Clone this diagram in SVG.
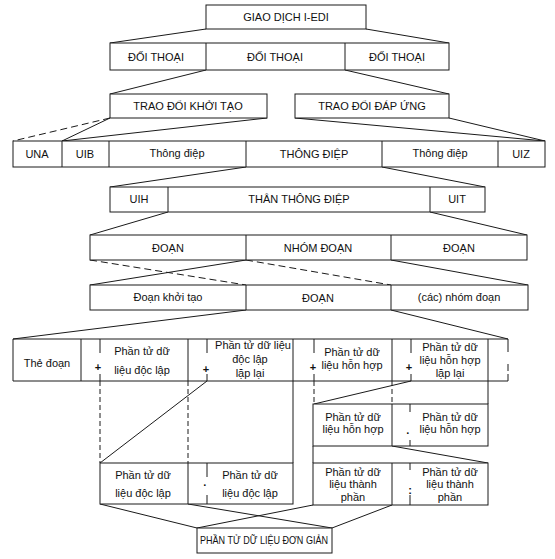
<svg xmlns="http://www.w3.org/2000/svg" width="555" height="559" viewBox="0 0 555 559">
<style>
.box{fill:#fff;stroke:#1a1a1a;stroke-width:1}
.ln{stroke:#1a1a1a;stroke-width:1;fill:none}
.dash{stroke-dasharray:7 4}
.vd{stroke-dasharray:5 3}
.t{font-family:"Liberation Sans",Arial,sans-serif;font-size:11px;fill:#111;text-anchor:middle}
.m{font-family:"Liberation Sans",Arial,sans-serif;font-size:11px;font-weight:bold;fill:#111;text-anchor:middle}
</style>
<rect width="555" height="559" fill="#fff"/>

<g id="connectors">
<line class="ln" x1="206" y1="29" x2="110" y2="43"/>
<line class="ln" x1="366" y1="29" x2="449" y2="43"/>
<line class="ln" x1="206" y1="70" x2="110" y2="94"/>
<line class="ln" x1="345" y1="70" x2="449" y2="94"/>
<line class="ln dash" x1="110" y1="118" x2="13" y2="141"/>
<line class="ln" x1="110" y1="118" x2="62" y2="141"/>
<line class="ln" x1="267" y1="118" x2="62" y2="141"/>
<line class="ln" x1="295" y1="118" x2="545" y2="141"/>
<line class="ln" x1="449" y1="118" x2="545" y2="141"/>
<line class="ln" x1="246" y1="167" x2="110" y2="187"/>
<line class="ln" x1="382" y1="167" x2="485" y2="187"/>
<line class="ln" x1="168" y1="212" x2="90" y2="235"/>
<line class="ln" x1="430" y1="212" x2="527" y2="235"/>
<line class="ln dash" x1="90" y1="260" x2="246" y2="285"/>
<line class="ln" x1="246" y1="260" x2="90" y2="285"/>
<line class="ln dash" x1="246" y1="260" x2="391" y2="285"/>
<line class="ln" x1="391" y1="260" x2="528" y2="285"/>
<line class="ln" x1="246" y1="310" x2="13" y2="339"/>
<line class="ln" x1="391" y1="310" x2="508" y2="339"/>
<line class="ln vd" x1="100" y1="381" x2="100" y2="463"/>
<line class="ln vd" x1="188" y1="381" x2="188" y2="463"/>
<line class="ln vd" x1="314" y1="381" x2="314" y2="404"/>
<line class="ln vd" x1="392" y1="381" x2="392" y2="404"/>
<line class="ln" x1="293" y1="381" x2="293" y2="463"/>
<line class="ln" x1="488" y1="381" x2="488" y2="404"/>
<line class="ln" x1="207" y1="381" x2="100" y2="463"/>
<line class="ln" x1="411" y1="381" x2="314" y2="404"/>
<line class="ln" x1="313" y1="446" x2="313" y2="463"/>
<line class="ln" x1="392" y1="446" x2="488" y2="463"/>
<line class="ln" x1="100" y1="504" x2="197" y2="528"/>
<line class="ln" x1="188" y1="504" x2="332" y2="528"/>
<line class="ln" x1="313" y1="505" x2="197" y2="528"/>
<line class="ln" x1="392" y1="505" x2="332" y2="528"/>
</g>

<g id="giao-dich">
<rect class="box" x="206" y="5" width="160" height="24"/>
<text class="t" x="286" y="21">GIAO DỊCH I-EDI</text>
</g>

<g id="doi-thoai">
<rect class="box" x="110" y="43" width="339" height="27"/>
<line class="ln" x1="206" y1="43" x2="206" y2="70"/>
<line class="ln" x1="345" y1="43" x2="345" y2="70"/>
<text class="t" x="156" y="61">ĐỐI THOẠI</text>
<text class="t" x="275" y="61">ĐỐI THOẠI</text>
<text class="t" x="397" y="61">ĐỐI THOẠI</text>
</g>

<g id="trao-doi-khoi-tao">
<rect class="box" x="110" y="94" width="157" height="24"/>
<text class="t" x="188" y="110">TRAO ĐỔI KHỞI TẠO</text>
</g>
<g id="trao-doi-dap-ung">
<rect class="box" x="295" y="94" width="154" height="24"/>
<text class="t" x="372" y="110">TRAO ĐỔI ĐÁP ỨNG</text>
</g>

<g id="interchange">
<rect class="box" x="13" y="141" width="532" height="26"/>
<line class="ln" x1="62" y1="141" x2="62" y2="167"/>
<line class="ln" x1="109" y1="141" x2="109" y2="167"/>
<line class="ln" x1="246" y1="141" x2="246" y2="167"/>
<line class="ln" x1="382" y1="141" x2="382" y2="167"/>
<line class="ln" x1="498" y1="141" x2="498" y2="167"/>
<text class="t" x="37" y="158">UNA</text>
<text class="t" x="85" y="158">UIB</text>
<text class="t" x="177" y="157">Thông điệp</text>
<text class="t" x="314" y="158">THÔNG ĐIỆP</text>
<text class="t" x="440" y="157">Thông điệp</text>
<text class="t" x="521" y="158">UIZ</text>
</g>

<g id="message">
<rect class="box" x="110" y="187" width="375" height="25"/>
<line class="ln" x1="168" y1="187" x2="168" y2="212"/>
<line class="ln" x1="430" y1="187" x2="430" y2="212"/>
<text class="t" x="139" y="203">UIH</text>
<text class="t" x="299" y="203">THÂN THÔNG ĐIỆP</text>
<text class="t" x="457" y="203">UIT</text>
</g>

<g id="body">
<rect class="box" x="90" y="235" width="437" height="25"/>
<line class="ln" x1="246" y1="235" x2="246" y2="260"/>
<line class="ln" x1="391" y1="235" x2="391" y2="260"/>
<text class="t" x="168" y="252">ĐOẠN</text>
<text class="t" x="318" y="252">NHÓM ĐOẠN</text>
<text class="t" x="459" y="252">ĐOẠN</text>
</g>

<g id="group">
<rect class="box" x="90" y="285" width="438" height="25"/>
<line class="ln" x1="246" y1="285" x2="246" y2="310"/>
<line class="ln" x1="391" y1="285" x2="391" y2="310"/>
<text class="t" x="168" y="301">Đoạn khởi tạo</text>
<text class="t" x="318" y="302">ĐOẠN</text>
<text class="t" x="459" y="301">(các) nhóm đoạn</text>
</g>

<g id="segment">
<path class="ln" d="M508,339 H13 V381 H508"/>
<line class="ln" x1="81" y1="339" x2="81" y2="381"/>
<line class="ln" x1="188" y1="339" x2="188" y2="381"/>
<line class="ln" x1="293" y1="339" x2="293" y2="381"/>
<line class="ln" x1="392" y1="339" x2="392" y2="381"/>
<line class="ln" x1="488" y1="339" x2="488" y2="381"/>
<path class="ln" d="M100,339 V353 M100,374 V381 M207,339 V353 M207,374 V381 M314,339 V353 M314,374 V381 M411,339 V353 M411,374 V381 M508,339 V352 M508,364 V371 M508,374 V381"/>
<text class="m" x="98" y="371">+</text>
<text class="m" x="206" y="373">+</text>
<text class="m" x="313" y="371">+</text>
<text class="m" x="409" y="371">+</text>
<text class="t" x="47" y="367">Thẻ đoạn</text>
<text class="t" x="142" y="355">Phần tử dữ</text>
<text class="t" x="142" y="374">liệu độc lập</text>
<text class="t" x="253" y="349">Phần tử dữ  liệu</text>
<text class="t" x="250" y="363">độc lập</text>
<text class="t" x="250" y="377">lặp lại</text>
<text class="t" x="352" y="356">Phần tử dữ</text>
<text class="t" x="352" y="369">liệu hỗn hợp</text>
<text class="t" x="450" y="351">Phần tử dữ</text>
<text class="t" x="450" y="364">liệu hỗn hợp</text>
<text class="t" x="450" y="377">lặp lại</text>
</g>

<g id="doc-lap">
<rect class="box" x="100" y="463" width="193" height="41"/>
<line class="ln" x1="188" y1="463" x2="188" y2="504"/>
<path class="ln" d="M207,463 V477 M207,495 V504"/>
<text class="m" x="205" y="489">·</text>
<text class="t" x="143" y="479">Phần tử dữ</text>
<text class="t" x="143" y="497">liệu độc lập</text>
<text class="t" x="250" y="479">Phần tử dữ</text>
<text class="t" x="250" y="497">liệu độc lập</text>
</g>

<g id="hon-hop">
<rect class="box" x="313" y="404" width="175" height="42"/>
<line class="ln" x1="392" y1="404" x2="392" y2="446"/>
<path class="ln" d="M410,404 V412 M410,440 V446"/>
<text class="m" x="408" y="437">·</text>
<text class="t" x="353" y="421">Phần tử dữ</text>
<text class="t" x="353" y="433">liệu hỗn hợp</text>
<text class="t" x="450" y="421">Phần tử dữ</text>
<text class="t" x="450" y="433">liệu hỗn hợp</text>
</g>

<g id="thanh-phan">
<rect class="box" x="313" y="463" width="175" height="42"/>
<line class="ln" x1="392" y1="463" x2="392" y2="505"/>
<path class="ln" d="M410,463 V470 M410,495 V505"/>
<text class="m" x="410" y="494">:</text>
<text class="t" x="353" y="476">Phần tử dữ</text>
<text class="t" x="353" y="488">liệu thành</text>
<text class="t" x="353" y="501">phần</text>
<text class="t" x="450" y="476">Phần tử dữ</text>
<text class="t" x="450" y="488">liệu thành</text>
<text class="t" x="450" y="501">phần</text>
</g>

<g id="don-gian">
<rect class="box" x="197" y="528" width="135" height="25"/>
<text class="t" x="264" y="544" font-size="10" textLength="128" lengthAdjust="spacingAndGlyphs">PHẦN TỬ DỮ LIỆU ĐƠN GIẢN</text>
</g>
</svg>
